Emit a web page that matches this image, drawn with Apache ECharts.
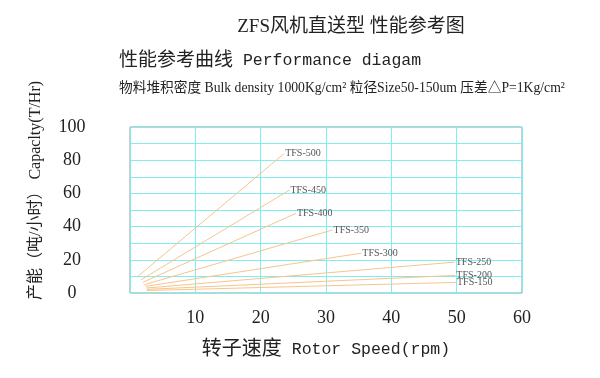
<!DOCTYPE html>
<html>
  <head>
    <title></title>
    <meta charset="UTF-8" />
    <script src="https://cdn.jsdelivr.net/npm/echarts@6/dist/echarts.min.js"></script>
  </head>
  <body style="margin:0">
    <div id="main"></div>
    <script>
      const width = 600;
      const height = 378;
      const main = document.getElementById('main');
      main.style.width = `${width}px`;
      main.style.height = `${height}px`;

      // each model: [start point, end point] as [rpm, T/Hr]
      const models = ['TFS-150', 'TFS-200', 'TFS-250', 'TFS-300', 'TFS-350', 'TFS-400', 'TFS-450', 'TFS-500'];
      const tfs150 = [[2.6, 1.5], [49.9, 6.4]];
      const tfs200 = [[2.6, 2.2], [49.8, 10.6]];
      const tfs250 = [[2.5, 3.0], [49.7, 18.6]];
      const tfs300 = [[2.4, 4.0], [35.4, 24.0]];
      const tfs350 = [[2.2, 5.0], [31.0, 38.0]];
      const tfs400 = [[2.0, 6.5], [25.4, 48.0]];
      const tfs450 = [[1.7, 8.0], [24.4, 62.0]];
      const tfs500 = [[1.2, 10.0], [23.6, 84.0]];
      const lines = [tfs150, tfs200, tfs250, tfs300, tfs350, tfs400, tfs450, tfs500];

      const serifCJK = "'Liberation Serif', 'Noto Sans CJK SC', serif";
      const monoCJK = "'Liberation Mono', 'Noto Sans CJK SC', monospace";

      const myChart = echarts.init(main);
      const option = {
        animation: false,
        backgroundColor: '#fff',
        title: {
          text: 'ZFS风机直送型 性能参考图',
          left: 346,
          textAlign: 'center',
          top: 13,
          textStyle: { fontSize: 19, fontWeight: 'normal', color: '#222', fontFamily: serifCJK }
        },
        graphic: [
          {
            type: 'text',
            left: 119,
            top: 51,
            style: {
              text: '{cn|性能参考曲线}{en| Performance diagam}',
              rich: {
                cn: { fontSize: 19, fill: '#222', fontFamily: monoCJK },
                en: { fontSize: 16.5, fill: '#222', fontFamily: monoCJK }
              }
            }
          },
          {
            type: 'text',
            left: 119,
            top: 82,
            style: {
              text: '物料堆积密度 Bulk density 1000Kg/cm² 粒径Size50-150um 压差△P=1Kg/cm²',
              fontSize: 13.7, fill: '#222', fontFamily: serifCJK
            }
          },
          {
            type: 'text',
            x: 28,
            y: 300,
            rotation: Math.PI / 2,
            style: { text: '产能（吨/小时） Capaclty(T/Hr)', fontSize: 16, fill: '#222', fontFamily: serifCJK }
          }
        ],
        grid: {
          left: 130,
          right: 78,
          top: 127,
          bottom: 85,
          show: true,
          borderColor: '#999',
          borderWidth: 1
        },
        xAxis: {
          type: 'value',
          min: 0,
          max: 60,
          interval: 10,
          name: '{cn|转子速度}{en| Rotor Speed(rpm)}',
          nameLocation: 'middle',
          nameGap: 47,
          nameTextStyle: {
            rich: {
              cn: { fontSize: 20, color: '#222', fontFamily: monoCJK },
              en: { fontSize: 16.5, color: '#222', fontFamily: monoCJK }
            }
          },
          axisLine: { show: false },
          axisTick: { show: false },
          axisLabel: {
            margin: 16,
            fontSize: 18,
            color: '#222',
            fontFamily: serifCJK,
            formatter: v => (v === 0 ? '' : v)
          },
          splitLine: { lineStyle: { color: '#80eeee', width: 1 } }
        },
        yAxis: {
          type: 'value',
          min: 0,
          max: 100,
          interval: 10,
          axisLine: { show: false },
          axisTick: { show: false },
          axisLabel: {
            margin: 58,
            align: 'center',
            fontSize: 18,
            color: '#222',
            fontFamily: serifCJK,
            formatter: v => (v % 20 === 0 ? v : '')
          },
          splitLine: { lineStyle: { color: '#80eeee', width: 1 } }
        },
        series: models.map((name, i) => ({
          name,
          type: 'line',
          data: lines[i],
          symbol: 'none',
          silent: true,
          lineStyle: { color: '#f8c48c', width: 1 },
          endLabel: {
            show: true,
            formatter: '{a}',
            distance: 1,
            fontSize: 10,
            color: '#555',
            fontFamily: serifCJK
          }
        }))
      };
      myChart.setOption(option);
    </script>
  </body>
</html>
